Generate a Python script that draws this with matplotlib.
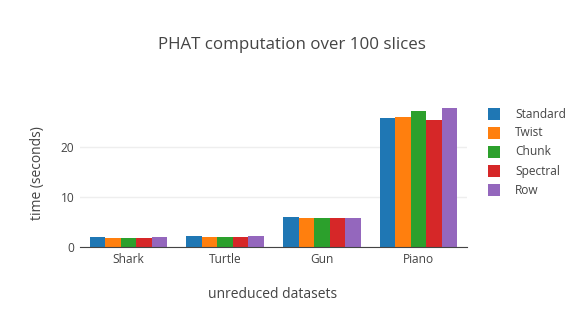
import matplotlib.pyplot as plt
import matplotlib.patches as mpatches
import numpy as np

plt.rcParams['font.family'] = ['Open Sans', 'DejaVu Sans']

datasets = ["Shark", "Turtle", "Gun", "Piano"]
methods = ["Standard", "Twist", "Chunk", "Spectral", "Row"]
standard = [1.93, 2.1, 5.96, 25.8]
twist    = [1.7, 2.0, 5.83, 26.0]
chunk    = [1.7, 2.0, 5.83, 27.2]
spectral = [1.8, 2.0, 5.83, 25.4]
row      = [2.0, 2.2, 5.8, 27.8]
series = [standard, twist, chunk, spectral, row]
colors = ['#1f77b4', '#ff7f0e', '#2ca02c', '#d62728', '#9467bd']

W, H = 584, 327
fig = plt.figure(figsize=(W / 100, H / 100), dpi=100)
ax = fig.add_axes([80 / W, 80 / H, 387 / W, 147 / H])

x = np.arange(len(datasets))
group = 0.8
bw = group / len(methods)
for i, (vals, c) in enumerate(zip(series, colors)):
    ax.bar(x - group / 2 + bw * (i + 0.5), vals, width=bw, color=c, label=methods[i], zorder=3)

ax.set_xlim(-0.5, len(datasets) - 0.5)
ax.set_ylim(0, 29.3)
ax.set_yticks([0, 10, 20])
ax.set_xticks(x)
ax.set_xticklabels(datasets)
ax.grid(axis='y', color='#eeeeee', linewidth=1, zorder=0)
for s in ['top', 'right', 'left']:
    ax.spines[s].set_visible(False)
ax.spines['bottom'].set_color('#444444')
ax.spines['bottom'].set_zorder(4)
ax.tick_params(length=0, labelsize=8.6, colors='#444444', pad=4)

fig.text(292 / W, 1 - 45 / H, "PHAT computation over 100 slices", ha='center', va='center',
         fontsize=12.2, color='#444444')
fig.text(273 / W, 1 - 295 / H, "unreduced datasets", ha='center', va='center',
         fontsize=10, color='#444444')
fig.text(37 / W, 1 - 173 / H, "time (seconds)", ha='center', va='center', rotation=90,
         fontsize=10, color='#444444')

# legend
for i, (m, c) in enumerate(zip(methods, colors)):
    yc = 114 + i * 19
    fig.add_artist(mpatches.Rectangle((488 / W, 1 - (yc + 6) / H), 12 / W, 12 / H,
                                      transform=fig.transFigure, facecolor=c, edgecolor='none'))
    fig.text(515 / W, 1 - yc / H, m, ha='left', va='center', fontsize=8.6, color='#444444')

fig.savefig('out.png', dpi=100)
